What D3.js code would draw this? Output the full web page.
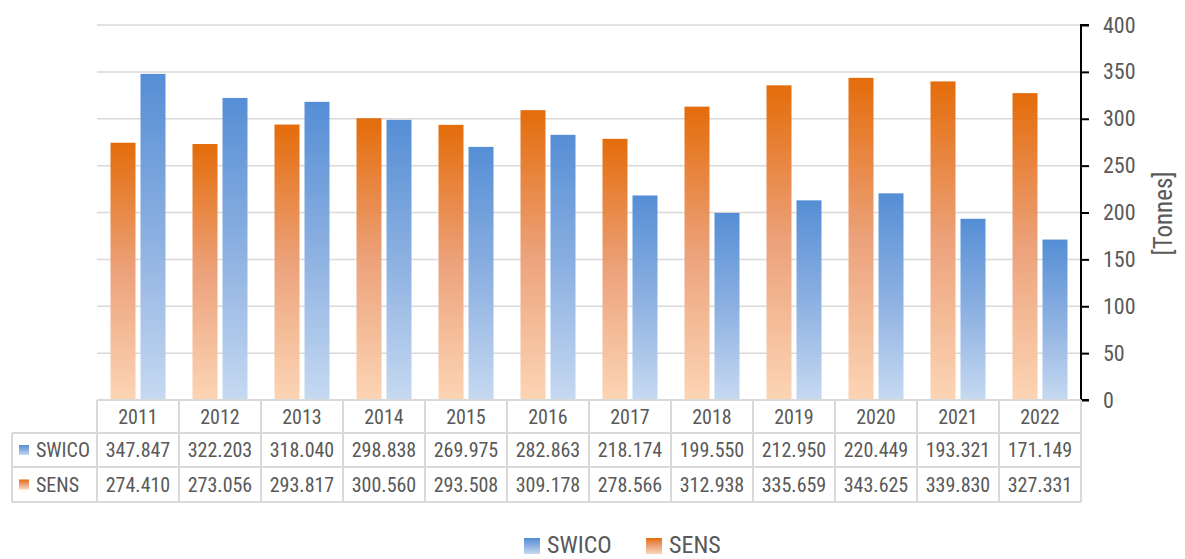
<!DOCTYPE html>
<html><head><meta charset="utf-8">
<script src="https://cdn.jsdelivr.net/npm/d3@7"></script>
<style>
html,body{margin:0;padding:0;background:#fff;}
svg text{font-family:"Liberation Sans Narrow","Roboto Condensed","DejaVu Sans Condensed",Roboto,sans-serif;fill:#595959;}
</style></head>
<body>
<svg id="chart" width="1185" height="559"></svg>
<script>
const years = ["2011","2012","2013","2014","2015","2016","2017","2018","2019","2020","2021","2022"];
const swico = [347.847,322.203,318.040,298.838,269.975,282.863,218.174,199.550,212.950,220.449,193.321,171.149];
const sens  = [274.410,273.056,293.817,300.560,293.508,309.178,278.566,312.938,335.659,343.625,339.830,327.331];
const yTicks = [0,50,100,150,200,250,300,350,400];
const seriesNames = ["SENS","SWICO"];
const tableRows = ["SWICO","SENS"];

(function(){
const svg = d3.select("#chart");
const colors = {
  SENS: ["#e46c0a","#eca27b","#fcd5b5"],
  SWICO: ["#558ed5","#8cb0e1","#c6d9f1"]
};
const defs = svg.append("defs");
Object.entries(colors).forEach(([k,[c0,cm,c1]])=>{
  const g = defs.append("linearGradient").attr("id","grad-"+k)
    .attr("x1",0).attr("y1",0).attr("x2",0).attr("y2",1);
  g.append("stop").attr("offset","0%").attr("stop-color",c0);
  g.append("stop").attr("offset","50%").attr("stop-color",cm);
  g.append("stop").attr("offset","100%").attr("stop-color",c1);
});

const pLeft = 97, pRight = 1081, pTop = 25, pBottom = 400;
const x = d3.scaleBand().domain(years).range([pLeft,pRight]).padding(0);
const y = d3.scaleLinear().domain([0,400]).range([pBottom,pTop]);

svg.append("g").selectAll("line").data(yTicks.filter(d=>d>0)).join("line")
  .attr("x1",pLeft).attr("x2",pRight)
  .attr("y1",d=>y(d)).attr("y2",d=>y(d))
  .attr("stroke","#d9d9d9").attr("stroke-width",1.5);

const dataBy = {SENS: sens, SWICO: swico};
years.forEach((yr,i)=>{
  const c = x(yr)+x.bandwidth()/2;
  const inner = d3.scaleBand().domain(seriesNames).range([c-27.5,c+27.5]).paddingInner(5/30).paddingOuter(0);
  seriesNames.forEach(s=>{
    const v = dataBy[s][i];
    svg.append("rect")
      .attr("x",inner(s)).attr("width",inner.bandwidth())
      .attr("y",y(v)).attr("height",y(0)-y(v))
      .attr("fill",`url(#grad-${s})`);
  });
});

const axis = d3.axisRight(y).tickValues(yTicks).tickSize(8).tickPadding(14);
const ag = svg.append("g").attr("transform",`translate(${pRight},0)`).call(axis);
ag.select(".domain").attr("stroke","#000").attr("stroke-width",2)
  .attr("d",`M8,${pTop}H0V${pBottom}H8`);
ag.selectAll(".tick line").attr("stroke","#000").attr("stroke-width",2);
ag.selectAll(".tick text").attr("font-size",22).attr("fill","#595959")
  .style("font-family",'"Liberation Sans Narrow","Roboto Condensed","DejaVu Sans Condensed",Roboto,sans-serif');

svg.append("text").attr("transform",`translate(1172,${(pTop+pBottom)/2+1}) rotate(-90)`)
  .attr("text-anchor","middle").attr("font-size",25).text("[Tonnes]");

const rowY = [400,433,467,502];
const tLeft = 12;
const tg = svg.append("g");
const lineCol = "#d9d9d9";
tg.append("line").attr("x1",pLeft).attr("x2",pRight).attr("y1",rowY[0]).attr("y2",rowY[0]).attr("stroke",lineCol).attr("stroke-width",2);
rowY.slice(1).forEach(yy=>{
  tg.append("line").attr("x1",tLeft).attr("x2",pRight).attr("y1",yy).attr("y2",yy).attr("stroke",lineCol).attr("stroke-width",2);
});
const vx = years.map(d=>x(d)).concat([pRight]);
vx.forEach(xx=>{
  tg.append("line").attr("x1",xx).attr("x2",xx).attr("y1",rowY[0]).attr("y2",rowY[3]).attr("stroke",lineCol).attr("stroke-width",2);
});
tg.append("line").attr("x1",tLeft).attr("x2",tLeft).attr("y1",rowY[1]).attr("y2",rowY[3]).attr("stroke",lineCol).attr("stroke-width",2);

tg.selectAll("text.yr").data(years).join("text").attr("class","yr")
  .attr("x",d=>x(d)+x.bandwidth()/2).attr("y",(rowY[0]+rowY[1])/2)
  .attr("dy","0.36em").attr("text-anchor","middle").attr("font-size",20).text(d=>d);

const fmt = d3.format(".3f");
tableRows.forEach((name,r)=>{
  const cy = (rowY[r+1]+rowY[r+2])/2;
  tg.append("rect").attr("x",19).attr("y",cy-5).attr("width",10).attr("height",10).attr("fill",`url(#grad-${name})`);
  tg.append("text").attr("x",36).attr("y",cy).attr("dy","0.36em").attr("font-size",20).text(name);
  tg.selectAll(null).data(dataBy[name]).join("text")
    .attr("x",(d,i)=>x(years[i])+x.bandwidth()/2).attr("y",cy).attr("dy","0.36em")
    .attr("text-anchor","middle").attr("font-size",20).text(d=>fmt(d));
});

const lg = svg.append("g");
const legItems = [{n:"SWICO",x:524},{n:"SENS",x:646}];
legItems.forEach(it=>{
  lg.append("rect").attr("x",it.x).attr("y",538).attr("width",16).attr("height",16).attr("fill",`url(#grad-${it.n})`);
  lg.append("text").attr("x",it.x+23).attr("y",553).attr("font-size",24).text(it.n);
});
})();
</script>
</body></html>
